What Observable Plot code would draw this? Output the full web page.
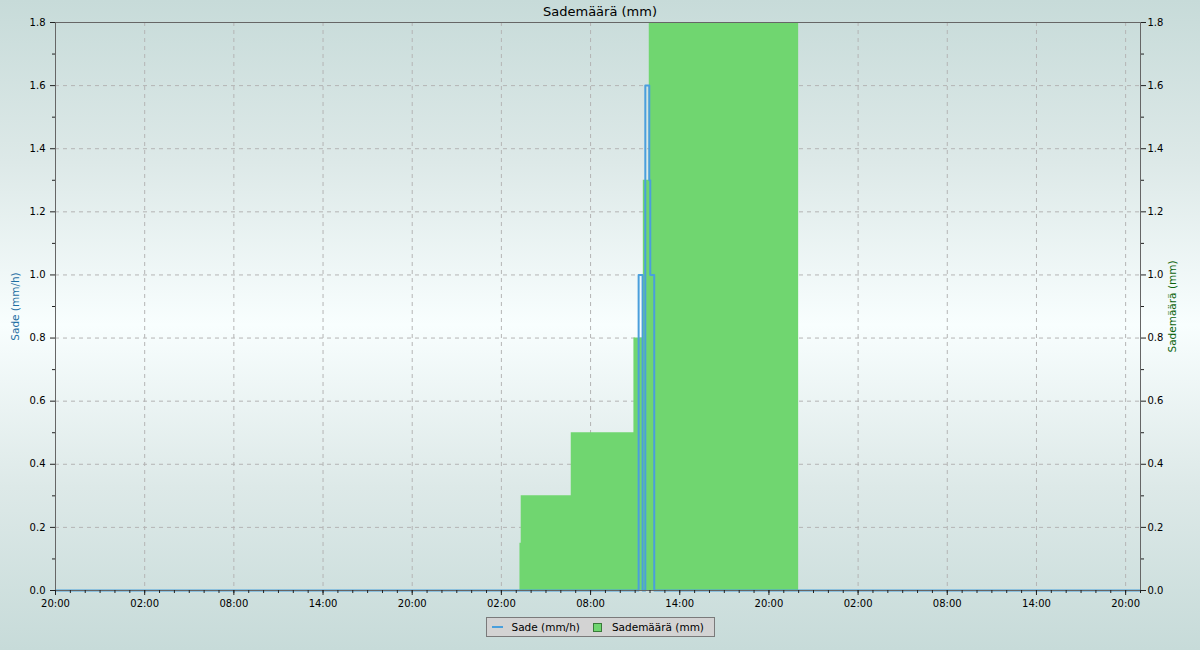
<!DOCTYPE html>
<html>
<head>
<meta charset="utf-8">
<script src="https://cdn.jsdelivr.net/npm/d3@7"></script>
<script src="https://cdn.jsdelivr.net/npm/@observablehq/plot@0.6"></script>
<style>
  html, body { margin: 0; padding: 0; }
  body {
    width: 1200px; height: 650px; overflow: hidden;
    background: linear-gradient(to bottom, #c7dbd9 0%, #dde9e8 25%, #f8fefe 50%, #dde9e8 75%, #c7dbd9 100%);
    font-family: "DejaVu Sans", sans-serif;
  }
  #title { height: 19px; text-align: center; font-size: 13px; line-height: 23px; color: #000; }
  #chart svg { display: block; }
  #legend {
    margin: 4px auto 0 auto; width: 227px; height: 18px;
    border: 1px solid #7a7a7a; background: #d3d3d3;
    font-size: 10.5px; color: #000; display: flex; align-items: center;
    position: relative; left: 0px;
  }
  .sw-line { width: 11px; height: 2px; background: #4a9fdc; margin-left: 5px; margin-right: 9px; }
  .sw-box { width: 7px; height: 7px; background: #70d670; border: 1px solid #3a7a3a; margin-left: 13px; margin-right: 10px; }
</style>
</head>
<body>
<div id="title">Sademäärä (mm)</div>
<div id="chart"></div>
<div id="legend"><span class="sw-line"></span><span>Sade (mm/h)</span><span class="sw-box"></span><span>Sademäärä (mm)</span></div>
<script>
// Sade (mm/h) – rain intensity, step series
const rainTimes = ["2024-06-01T20:00Z","2024-06-03T11:14Z","2024-06-03T11:30Z","2024-06-03T11:41Z","2024-06-03T11:57Z","2024-06-03T12:01Z","2024-06-03T12:17Z","2024-06-04T21:00Z"];
const rainRate  = [0, 1.0, 0, 1.6, 1.3, 1.0, 0, 0];

// Sademäärä (mm) – accumulated rain, step area
const sumTimes  = ["2024-06-03T03:15Z","2024-06-03T03:20Z","2024-06-03T06:42Z","2024-06-03T10:55Z","2024-06-03T11:33Z","2024-06-03T11:57Z","2024-06-03T22:00Z"];
const sumValues = [0.15, 0.3, 0.5, 0.8, 1.3, 1.8, 1.8];

// Axes
const xStart = "2024-06-01T20:00Z";
const xEnd   = "2024-06-04T21:00Z";
const xTickLabels = ["20:00","02:00","08:00","14:00","20:00","02:00","08:00","14:00","20:00","02:00","08:00","14:00","20:00"];
const yTicks = [0, 0.2, 0.4, 0.6, 0.8, 1.0, 1.2, 1.4, 1.6, 1.8];
const yMinorTicks = [0.1, 0.3, 0.5, 0.7, 0.9, 1.1, 1.3, 1.5, 1.7];

const t0 = new Date(xStart), t1 = new Date(xEnd);
const rain = rainTimes.map((t, i) => ({time: new Date(t), value: rainRate[i]}));
const sum = sumTimes.map((t, i) => ({time: new Date(t), value: sumValues[i]}));
const majorTicks = xTickLabels.map((_, i) => d3.utcHour.offset(t0, i * 6));
const minorTicks = d3.utcHour.range(t0, d3.utcHour.offset(t1, 1));
const fmt = d3.utcFormat("%H:%M");
const yfmt = d3.format(".1f");

const gridStyle = {stroke: "#b4b4b4", strokeOpacity: 1, strokeDasharray: "4,4"};

const plot = Plot.plot({
  width: 1200,
  height: 594,
  marginTop: 3,
  marginBottom: 23,
  marginLeft: 55,
  marginRight: 60,
  style: {background: "transparent", fontFamily: "DejaVu Sans", fontSize: "10px", color: "#000", overflow: "visible"},
  x: {type: "utc", domain: [t0, t1]},
  y: {domain: [0, 1.8]},
  marks: [
    Plot.gridX({ticks: majorTicks, ...gridStyle}),
    Plot.gridY({ticks: yTicks, ...gridStyle}),
    Plot.areaY(sum, {x: "time", y: "value", curve: "step-after", fill: "#70d670", fillOpacity: 1}),
    Plot.lineY(rain, {x: "time", y: "value", curve: "step-after", stroke: "#4a9fdc", strokeWidth: 2}),
    Plot.frame({stroke: "#666", strokeWidth: 1}),
    Plot.axisX({ticks: minorTicks, tickSize: 3, text: null, label: null, stroke: "#222"}),
    Plot.axisX({ticks: majorTicks, tickSize: 5, tickPadding: 4, tickFormat: fmt, label: null, stroke: "#222"}),
    Plot.axisY({ticks: yMinorTicks, anchor: "left", tickSize: 3, text: null, label: null, stroke: "#222"}),
    Plot.axisY({ticks: yTicks, anchor: "left", tickSize: 5, tickPadding: 5, tickFormat: yfmt, label: null, stroke: "#222"}),
    Plot.axisY({ticks: yMinorTicks, anchor: "right", tickSize: 3, text: null, label: null, stroke: "#222"}),
    Plot.axisY({ticks: yTicks, anchor: "right", tickSize: 5, tickPadding: 2, tickFormat: yfmt, label: null, stroke: "#222"}),
    Plot.text(["Sade (mm/h)"], {text: d => d, frameAnchor: "left", textAnchor: "middle", rotate: -90, dx: -40, fill: "#1f6fa3", fontSize: 10.5}),
    Plot.text(["Sademäärä (mm)"], {text: d => d, frameAnchor: "right", textAnchor: "middle", rotate: -90, dx: 32, fill: "#0d640d", fontSize: 10.5})
  ]
});
document.getElementById("chart").appendChild(plot);
</script>
</body>
</html>
